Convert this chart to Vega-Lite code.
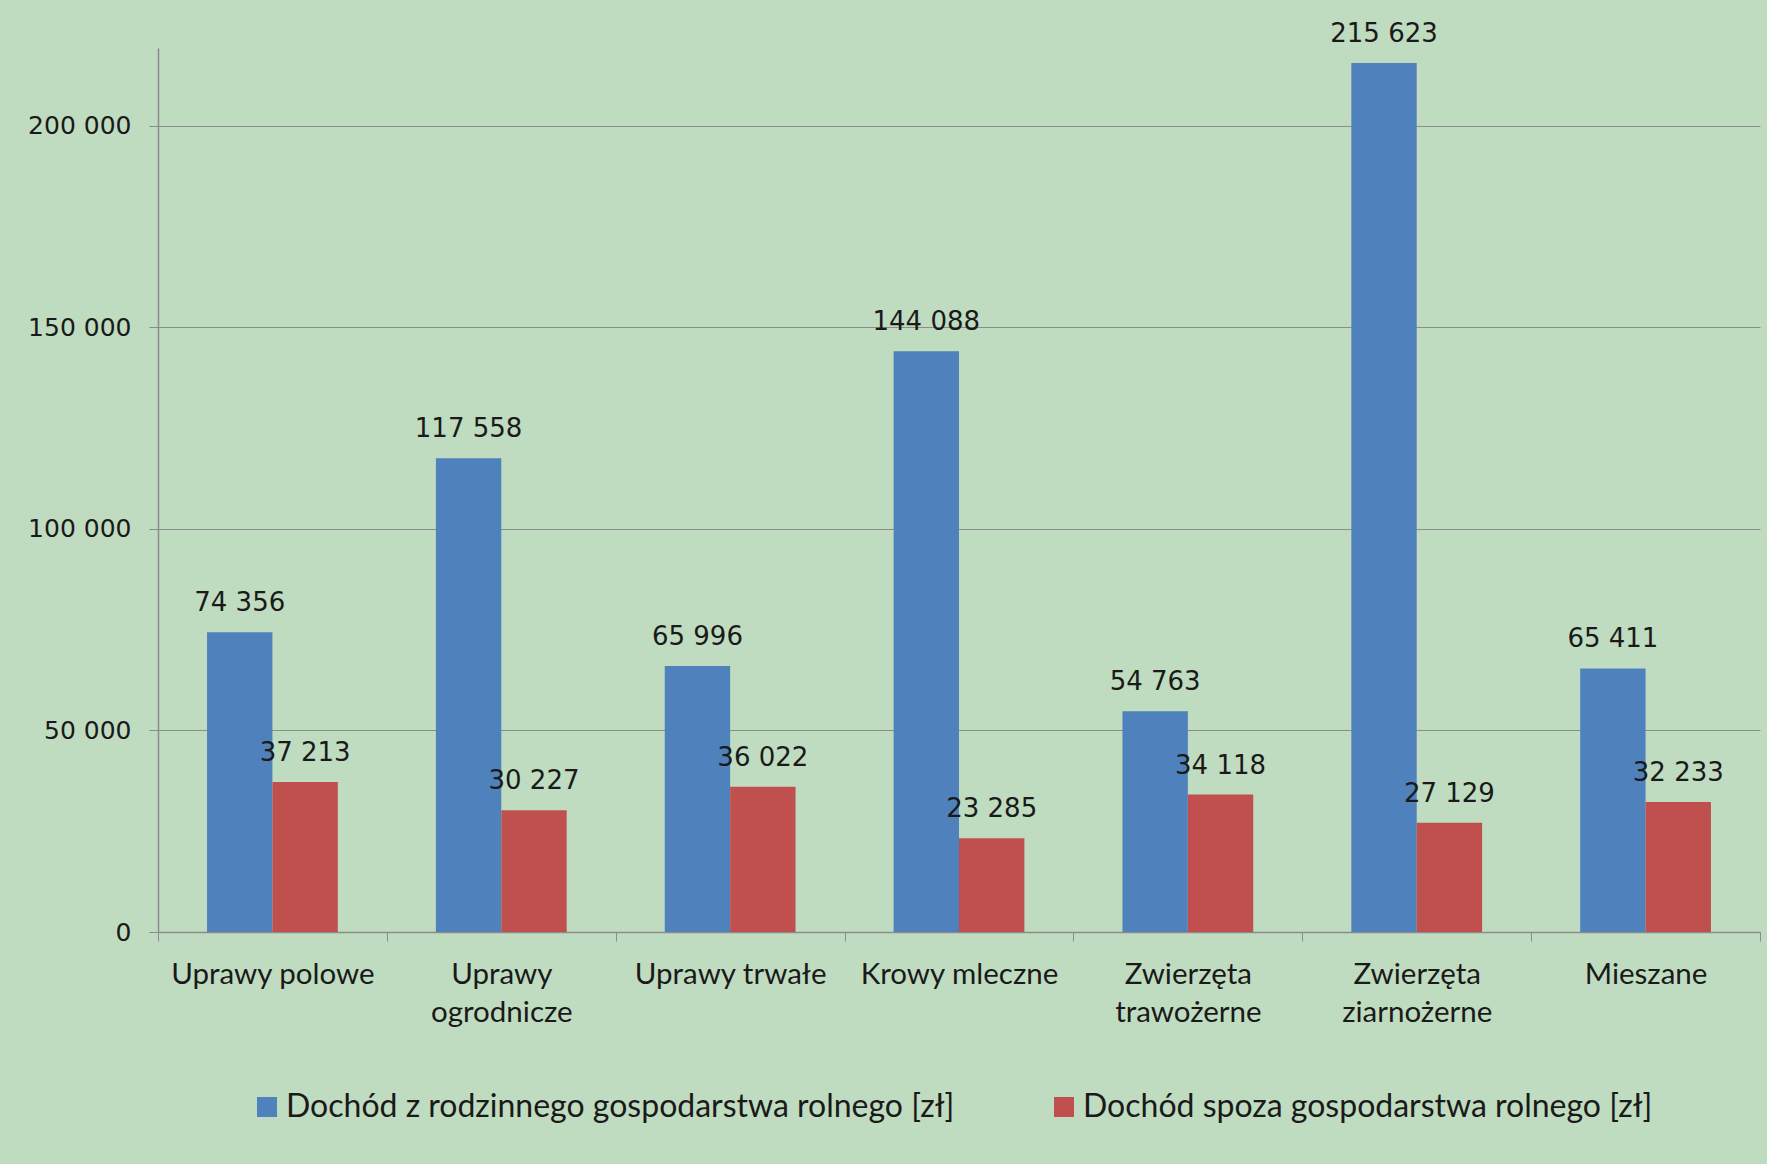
{
  "$schema": "https://vega.github.io/schema/vega-lite/v6.json",
  "autosize": {"type": "none"},
  "width": 1602,
  "height": 884,
  "padding": {"left": 158, "top": 48, "right": 7, "bottom": 232},
  "background": "#C0DCC0",
  "config": {
    "view": {"stroke": null},
    "locale": {"number": {"decimal": ",", "thousands": " ", "grouping": [3], "currency": ["", " zł"]}},
    "axis": {"domainColor": "#8C8C8C", "tickColor": "#8C8C8C", "gridColor": "#8C8C8C", "labelColor": "#1A1A1A"}
  },
  "data": {
    "values": [
      {"typ": "Uprawy polowe", "seria": "Dochód z rodzinnego gospodarstwa rolnego [zł]", "wartosc": 74356},
      {"typ": "Uprawy polowe", "seria": "Dochód spoza gospodarstwa rolnego [zł]", "wartosc": 37213},
      {"typ": "Uprawy ogrodnicze", "seria": "Dochód z rodzinnego gospodarstwa rolnego [zł]", "wartosc": 117558},
      {"typ": "Uprawy ogrodnicze", "seria": "Dochód spoza gospodarstwa rolnego [zł]", "wartosc": 30227},
      {"typ": "Uprawy trwałe", "seria": "Dochód z rodzinnego gospodarstwa rolnego [zł]", "wartosc": 65996},
      {"typ": "Uprawy trwałe", "seria": "Dochód spoza gospodarstwa rolnego [zł]", "wartosc": 36022},
      {"typ": "Krowy mleczne", "seria": "Dochód z rodzinnego gospodarstwa rolnego [zł]", "wartosc": 144088},
      {"typ": "Krowy mleczne", "seria": "Dochód spoza gospodarstwa rolnego [zł]", "wartosc": 23285},
      {"typ": "Zwierzęta trawożerne", "seria": "Dochód z rodzinnego gospodarstwa rolnego [zł]", "wartosc": 54763},
      {"typ": "Zwierzęta trawożerne", "seria": "Dochód spoza gospodarstwa rolnego [zł]", "wartosc": 34118},
      {"typ": "Zwierzęta ziarnożerne", "seria": "Dochód z rodzinnego gospodarstwa rolnego [zł]", "wartosc": 215623},
      {"typ": "Zwierzęta ziarnożerne", "seria": "Dochód spoza gospodarstwa rolnego [zł]", "wartosc": 27129},
      {"typ": "Mieszane", "seria": "Dochód z rodzinnego gospodarstwa rolnego [zł]", "wartosc": 65411},
      {"typ": "Mieszane", "seria": "Dochód spoza gospodarstwa rolnego [zł]", "wartosc": 32233}
    ]
  },
  "encoding": {
    "x": {
      "field": "typ", "type": "nominal", "sort": null,
      "scale": {"paddingInner": 0, "paddingOuter": 0},
      "axis": {
        "title": null, "labelAngle": 0, "tickBand": "extent", "tickSize": 9,
        "labelFont": "Lato", "labelFontSize": 29.5, "labelPadding": 19, "labelLineHeight": 38,
        "labelLimit": 400,
        "labelExpr": "length(datum.label) > 15 ? split(datum.label, ' ') : datum.label",
        "domainWidth": 1.5
      }
    },
    "xOffset": {"field": "seria", "type": "nominal", "sort": null, "scale": {"paddingInner": 0, "paddingOuter": 0.75}},
    "y": {
      "field": "wartosc", "type": "quantitative",
      "scale": {"domain": [0, 219350], "nice": false, "zero": true},
      "axis": {
        "title": null, "values": [0, 50000, 100000, 150000, 200000], "format": ",d",
        "grid": true, "tickSize": 9, "labelPadding": 18,
        "labelFont": "DejaVu Sans", "labelFontSize": 25, "domainWidth": 1.5
      }
    }
  },
  "layer": [
    {
      "mark": {"type": "bar"},
      "encoding": {
        "color": {
          "field": "seria", "type": "nominal", "sort": null,
          "scale": {"domain": ["Dochód z rodzinnego gospodarstwa rolnego [zł]", "Dochód spoza gospodarstwa rolnego [zł]"], "range": ["#4F81BD", "#C0504D"]},
          "legend": {
            "title": null, "orient": "none", "direction": "horizontal",
            "legendX": 93, "legendY": 1043,
            "symbolType": "square", "symbolSize": 400, "symbolStrokeWidth": 0,
            "labelFont": "Lato", "labelFontSize": 32, "labelColor": "#1A1A1A",
            "columnPadding": 93, "labelOffset": 3, "labelLimit": 900
          }
        }
      }
    },
    {
      "mark": {"type": "text", "baseline": "alphabetic", "dy": -21, "font": "DejaVu Sans", "fontSize": 26, "color": "#1A1A1A"},
      "encoding": {
        "text": {"field": "wartosc", "type": "quantitative", "format": ",d"}
      }
    }
  ]
}
